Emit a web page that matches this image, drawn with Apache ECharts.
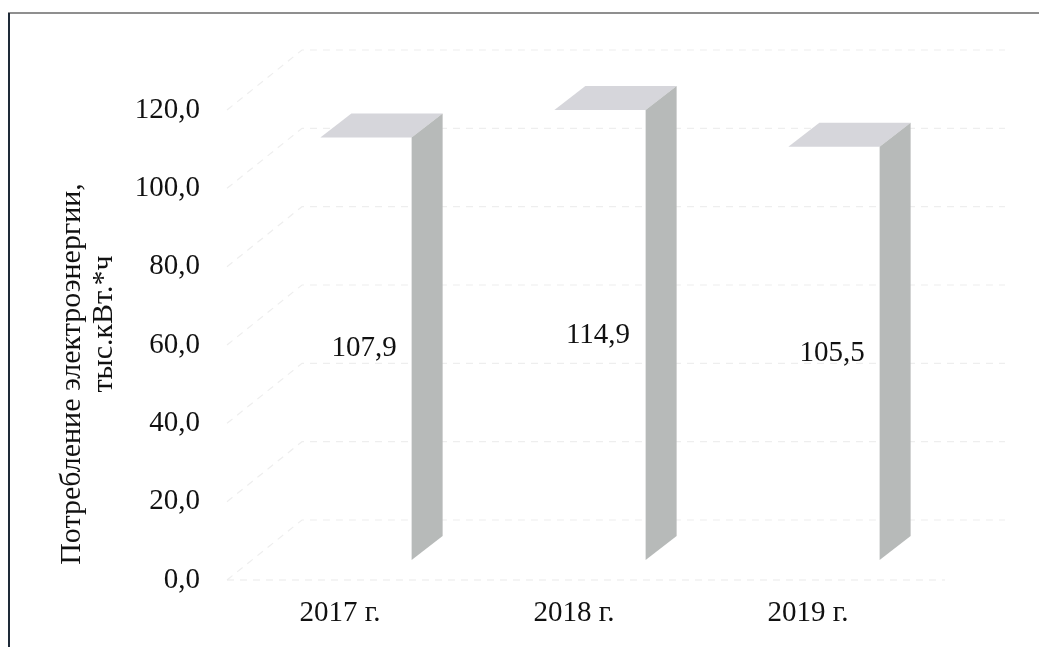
<!DOCTYPE html>
<html>
<head>
<meta charset="utf-8">
<script src="https://cdn.jsdelivr.net/npm/echarts@6/dist/echarts.min.js"></script>
<style>
  html, body { margin: 0; padding: 0; background: #fff; }
  #chart { width: 1039px; height: 647px; }
</style>
</head>
<body>
<div id="chart"></div>
<script>
var years = ["2017 г.", "2018 г.", "2019 г."];
var consumption = [107.9, 114.9, 105.5];
var yTicks = [0, 20, 40, 60, 80, 100, 120];
var axisTitle = ["Потребление электроэнергии,", "тыс.кВт.*ч"];

var serif = '"Liberation Serif", "Times New Roman", serif';
var chart = echarts.init(document.getElementById('chart'));

// bar shape in pixels: shift of the front face from the axis, depth of the box
var SHIFT_X = 26, SHIFT_Y = -20, DEPTH_X = 31, DEPTH_Y = -24, BAR_RATIO = 0.39;
// faint back walls
var WALL_X = 75, WALL_Y = -60, WALL_RIGHT = 1005;

function fmt(v) {
  return v.toFixed(1).replace('.', ',');
}

function renderBar(params, api) {
  var base = api.coord([api.value(0), 0]);
  var top = api.coord([api.value(0), api.value(1)]);
  var w = api.size([1, 0])[0] * BAR_RATIO;
  var x0 = base[0] + SHIFT_X - w / 2, x1 = x0 + w;
  var yb = base[1] + SHIFT_Y, yt = top[1] + SHIFT_Y;
  return {
    type: 'group',
    children: [
      { type: 'polygon', shape: { points: [[x0, yt], [x1, yt], [x1 + DEPTH_X, yt + DEPTH_Y], [x0 + DEPTH_X, yt + DEPTH_Y]] },
        style: { fill: '#d6d6db' } },
      { type: 'polygon', shape: { points: [[x1, yt], [x1 + DEPTH_X, yt + DEPTH_Y], [x1 + DEPTH_X, yb + DEPTH_Y], [x1, yb]] },
        style: { fill: '#b7bab9' } },
      { type: 'text', x: (x0 + x1) / 2 - 2, y: (yt + yb) / 2,
        style: { text: fmt(api.value(1)), font: '29px ' + serif, fill: '#111', align: 'center', verticalAlign: 'middle' } }
    ]
  };
}

function renderWall(params, api) {
  var p = api.coord([0, api.value(1)]);
  var left = params.coordSys.x + 4;
  var y = p[1];
  var pts = [[left, y], [left + WALL_X, y + WALL_Y], [WALL_RIGHT, y + WALL_Y]];
  var kids = [{ type: 'polyline', shape: { points: pts },
    style: { stroke: '#eeeeee', lineWidth: 1.2, lineDash: [7, 6], fill: null } }];
  if (api.value(1) === 0) {
    kids.push({ type: 'line', shape: { x1: left, y1: y, x2: 945, y2: y },
      style: { stroke: '#eaeaea', lineWidth: 1.2, lineDash: [7, 6] } });
  }
  return { type: 'group', children: kids };
}

var option = {
  animation: false,
  backgroundColor: '#fff',
  grid: { left: 223, right: 114, top: 110, bottom: 67 },
  xAxis: {
    type: 'category',
    data: years,
    axisLine: { show: false },
    axisTick: { show: false },
    axisLabel: { fontFamily: serif, fontSize: 29, color: '#111', margin: 19 }
  },
  yAxis: {
    type: 'value',
    min: 0, max: 120, interval: 20,
    axisLine: { show: false },
    axisTick: { show: false },
    splitLine: { show: false },
    axisLabel: { fontFamily: serif, fontSize: 29, color: '#111', margin: 23, formatter: fmt }
  },
  graphic: [
    { type: 'line', shape: { x1: 8, y1: 13, x2: 1039, y2: 13 }, style: { stroke: '#6a6a6a', lineWidth: 1.5 } },
    { type: 'line', shape: { x1: 9, y1: 13, x2: 9, y2: 647 }, style: { stroke: '#1e2a38', lineWidth: 2 } },
    { type: 'text', x: 72, y: 374, rotation: Math.PI / 2,
      style: { text: axisTitle[0], font: '30px ' + serif, fill: '#111', align: 'center', verticalAlign: 'middle' } },
    { type: 'text', x: 104, y: 324, rotation: Math.PI / 2,
      style: { text: axisTitle[1], font: '30px ' + serif, fill: '#111', align: 'center', verticalAlign: 'middle' } }
  ],
  series: [
    {
      type: 'custom',
      renderItem: renderWall,
      data: yTicks.map(function (v) { return [0, v]; }),
      silent: true,
      z: 1
    },
    {
      type: 'custom',
      renderItem: renderBar,
      data: consumption.map(function (v, i) { return [i, v]; }),
      z: 2
    }
  ]
};

chart.setOption(option);
</script>
</body>
</html>
